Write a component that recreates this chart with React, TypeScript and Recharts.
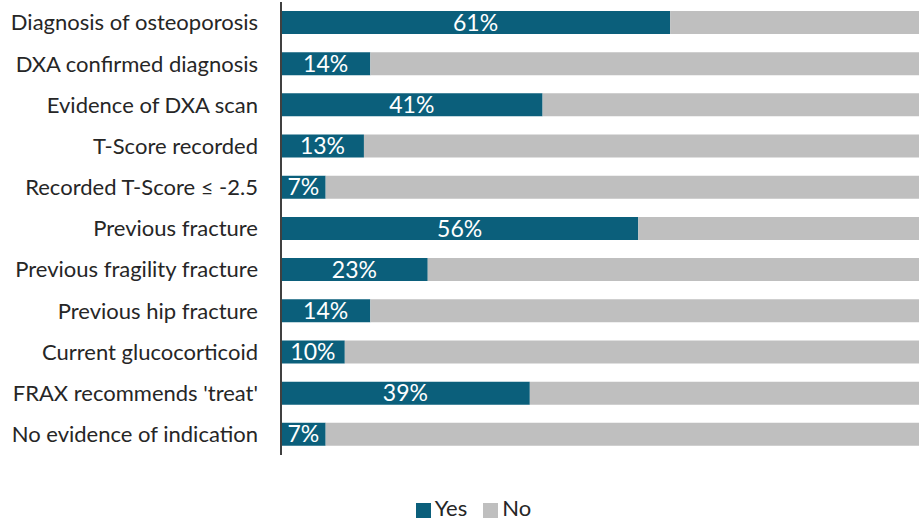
import { BarChart, Bar, XAxis, YAxis, Legend, LabelList } from "recharts";

const categories = [
  "Diagnosis of osteoporosis",
  "DXA confirmed diagnosis",
  "Evidence of DXA scan",
  "T-Score recorded",
  "Recorded T-Score \u2264 -2.5",
  "Previous fracture",
  "Previous fragility fracture",
  "Previous hip fracture",
  "Current glucocorticoid",
  "FRAX recommends 'treat'",
  "No evidence of indication",
];
const yesValues = [61, 14, 41, 13, 7, 56, 23, 14, 10, 39, 7];
const noValues = [39, 86, 59, 87, 93, 44, 77, 86, 90, 61, 93];

const data = categories.map((name, i) => ({
  name,
  Yes: yesValues[i],
  No: noValues[i],
}));

const FONT = "Lato, 'Open Sans', sans-serif";
const legendOrder = ["Yes", "No"];

const App = () => {
  return (
    <div style={{ position: "absolute", left: 0, top: 0 }}>
      <BarChart
        layout="vertical"
        width={919}
        height={523}
        data={data}
        margin={{ top: 2, right: 0, left: 0, bottom: 41 }}
        barSize={23}
        style={{ fontFamily: FONT }}
      >
        <XAxis type="number" domain={[0, 100]} hide />
        <YAxis
          type="category"
          dataKey="name"
          width={281}
          tickLine={false}
          tickMargin={17}
          axisLine={{ stroke: "#404040", strokeWidth: 2 }}
          tick={{ fill: "#262626", fontSize: 22, fontFamily: FONT }}
          interval={0}
        />
        <Legend
          verticalAlign="bottom"
          align="center"
          iconType="square"
          iconSize={15}
          itemSorter={(item: any) => legendOrder.indexOf(item.value)}
          wrapperStyle={{ top: 494, bottom: "auto", left: 22, width: 919, fontSize: 22, color: "#404040" }}
          formatter={(v: string) => (
            <span style={{ color: "#262626", marginRight: 6 }}>{v}</span>
          )}
        />
        <Bar dataKey="Yes" stackId="a" fill="#0b5f7b" isAnimationActive={false}>
          <LabelList
            dataKey="Yes"
            position="center"
            formatter={(v: any) => `${v}%`}
            style={{ fill: "#ffffff", fontSize: 23, fontFamily: FONT }}
          />
        </Bar>
        <Bar dataKey="No" stackId="a" fill="#bfbfbf" isAnimationActive={false} />
      </BarChart>
    </div>
  );
};

export default App;
